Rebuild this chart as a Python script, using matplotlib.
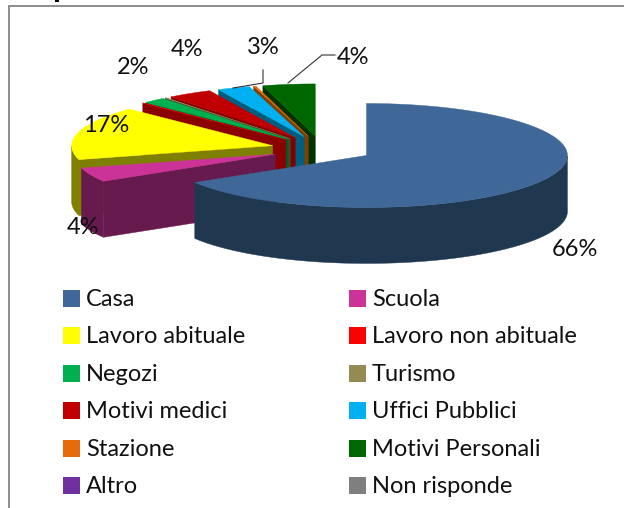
import numpy as np
import matplotlib
matplotlib.use("Agg")
import matplotlib.pyplot as plt
from matplotlib.patches import Polygon, Rectangle

categories = ["Casa", "Scuola", "Lavoro abituale", "Lavoro non abituale", "Negozi", "Turismo",
              "Motivi medici", "Uffici Pubblici", "Stazione", "Motivi Personali", "Altro", "Non risponde"]
values = [66.3, 4.4, 16.7, 0.1, 1.8, 0.1, 3.6, 2.6, 0.2, 4.2, 0, 0]
top_colors = ["#3F6797", "#CC3399", "#FFFF00", "#FF0000", "#00B050", "#948A54",
              "#C00000", "#00B0F0", "#E46C0A", "#006600", "#7030A0", "#7F7F7F"]
side_colors = ["#203750", "#661A4D", "#808000", "#8B0000", "#005A28", "#4A452A",
               "#800000", "#005F80", "#7F3F00", "#003300", "#38184F", "#404040"]
labelled = {0: (575, 250), 1: (83, 228), 2: (106, 125), 4: (133, 67), 6: (187, 49), 7: (263, 47), 9: (353, 57)}

W, H = 624, 508
fig = plt.figure(figsize=(W / 100, H / 100), dpi=100)
ax = fig.add_axes([0, 0, 1, 1])
ax.set_xlim(0, W)
ax.set_ylim(H, 0)
ax.axis("off")

# pixel geometry of the fake 3d pie
cx, cy = 322, 149
rx, ry = 201, 52
depth = 56
explode = 51


def pt(a, r=1.0):
    a = np.radians(a)
    return np.sin(a) * rx * r, -np.cos(a) * ry * r


# chart frame, runs off the right and bottom of the crop
ax.add_patch(Rectangle((9, 6), 800, 800, fc="white", ec="#8C8C8C", lw=1.4))
# remains of the cropped title
ax.add_patch(Rectangle((55, 0), 4, 2, fc="black", ec="none"))

total = sum(values)
edges = np.cumsum([0] + values) / total * 360
slices = []
for i, v in enumerate(values):
    if v > 0:
        slices.append(i)

# back to front: last slice first, Casa at the end
for i in slices[::-1]:
    a0, a1 = edges[i], edges[i + 1]
    mid = (a0 + a1) / 2
    ox, oy = pt(mid, explode / rx)
    ox, oy = cx + ox, cy + oy
    ang = np.linspace(a0, a1, 80)
    rim = np.array([pt(a) for a in ang]) + [ox, oy]

    # radial wall on the start edge, faces the viewer on the left side
    if i != 0:
        p = pt(a0)
        wall = [(ox, oy), (ox + p[0], oy + p[1]), (ox + p[0], oy + p[1] + depth), (ox, oy + depth)]
        ax.add_patch(Polygon(wall, fc=side_colors[i], ec=side_colors[i], lw=0.3))
    # outer wall, only the front half of the ellipse shows
    front = rim[(ang >= 90) & (ang <= 270)]
    if len(front) > 1:
        outer = np.vstack([front, (front + [0, depth])[::-1]])
        ax.add_patch(Polygon(outer, fc=side_colors[i], ec=side_colors[i], lw=0.3))
    ax.add_patch(Polygon(np.vstack([[ox, oy], rim]), fc=top_colors[i], ec=top_colors[i], lw=0.3))

for i, (x, y) in labelled.items():
    ax.text(x, y, f"{round(values[i] / total * 100)}%", fontsize=17, family="Lato",
            ha="center", va="center", color="#111111")

# leader lines
ax.plot([263, 263, 233], [70, 83, 88], color="#333333", lw=0.8)
ax.plot([335, 322, 288], [55, 55, 83], color="#333333", lw=0.8)

# legend
rows = [290, 327, 365, 402, 440, 477]
for j, name in enumerate(categories):
    row = rows[j // 2]
    x = 63 if j % 2 == 0 else 349
    ax.add_patch(Rectangle((x, row), 17, 17, fc=top_colors[j], ec="none"))
    ax.text(x + 23, row + 9.5, name, fontsize=17, family="Lato", ha="left", va="center", color="#111111")

fig.savefig("out.png", dpi=100)
